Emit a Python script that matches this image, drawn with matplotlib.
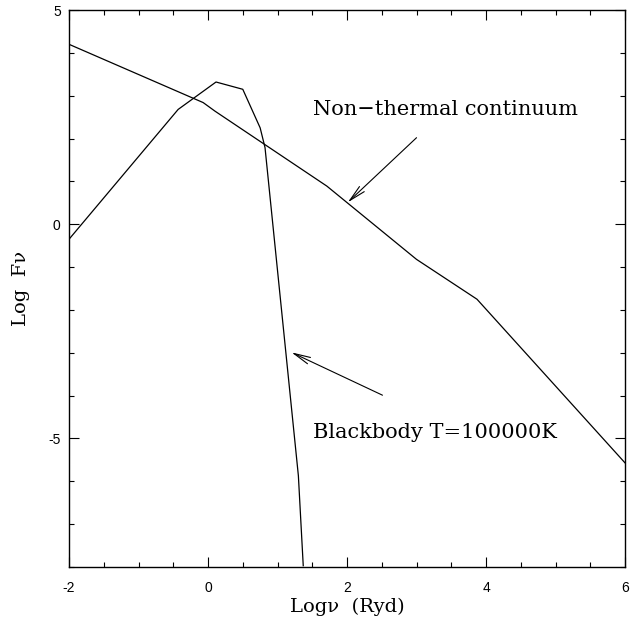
import matplotlib
matplotlib.use('Agg')
import matplotlib.pyplot as plt
from matplotlib.ticker import MultipleLocator

plt.rcParams['axes.unicode_minus'] = False

# non-thermal (power law) continuum, log nu vs log F_nu
pl_x = [-2.0, -0.07, 0.10, 1.71, 3.00, 3.87, 6.0]
pl_y = [4.20, 2.84, 2.64, 0.89, -0.82, -1.75, -5.57]

# blackbody T = 100000 K
bb_x = [-2.0, -0.43, 0.115, 0.50, 0.75, 0.82, 1.30, 1.37]
bb_y = [-0.35, 2.68, 3.32, 3.15, 2.25, 1.79, -5.87, -7.97]

# annotations: (text, text position, arrow tail, arrow tip)
labels = ['Non\u2212thermal continuum', 'Blackbody T=100000K']
label_pos = [(1.51, 2.68), (1.51, -4.85)]
arrow_tail = [(3.00, 2.02), (2.51, -3.99)]
arrow_tip = [(2.01, 0.51), (1.20, -2.99)]

plt.figure(figsize=(6.35, 6.27), dpi=100)
ax = plt.axes([0.1087, 0.0957, 0.8756, 0.8883])

ax.plot(pl_x, pl_y, color='black', lw=0.9)
ax.plot(bb_x, bb_y, color='black', lw=0.9)

serif = 'DejaVu Serif'
for txt, pos, tail, tip in zip(labels, label_pos, arrow_tail, arrow_tip):
	ax.text(pos[0], pos[1], txt, family=serif, fontsize=15, ha='left', va='center')
	ax.annotate('', xy=tip, xytext=tail,
		arrowprops=dict(arrowstyle='->,head_length=1.2,head_width=0.25', color='black', lw=0.8,
			shrinkA=0, shrinkB=0))

ax.set_xlim(-2, 6)
ax.set_ylim(-8, 5)
ax.xaxis.set_major_locator(MultipleLocator(2))
ax.xaxis.set_minor_locator(MultipleLocator(0.5))
ax.yaxis.set_major_locator(MultipleLocator(5))
ax.yaxis.set_minor_locator(MultipleLocator(1))

ax.tick_params(which='both', direction='in', top=True, right=True, width=0.8)
ax.tick_params(which='major', length=7)
ax.tick_params(which='minor', length=3.5)
ax.tick_params(axis='x', pad=10)
ax.tick_params(axis='y', pad=6)
for lab in ax.get_xticklabels() + ax.get_yticklabels():
	lab.set_family('Liberation Sans')
	lab.set_fontsize(10)
for sp in ax.spines.values():
	sp.set_linewidth(1.0)

ax.set_xlabel('Log\u03bd  (Ryd)', family=serif, fontsize=14)
ax.set_ylabel('Log  F\u03bd', family=serif, fontsize=14)
ax.xaxis.set_label_coords(0.5, -0.055)
ax.yaxis.set_label_coords(-0.07, 0.5)

plt.savefig('out.png', dpi=100)
